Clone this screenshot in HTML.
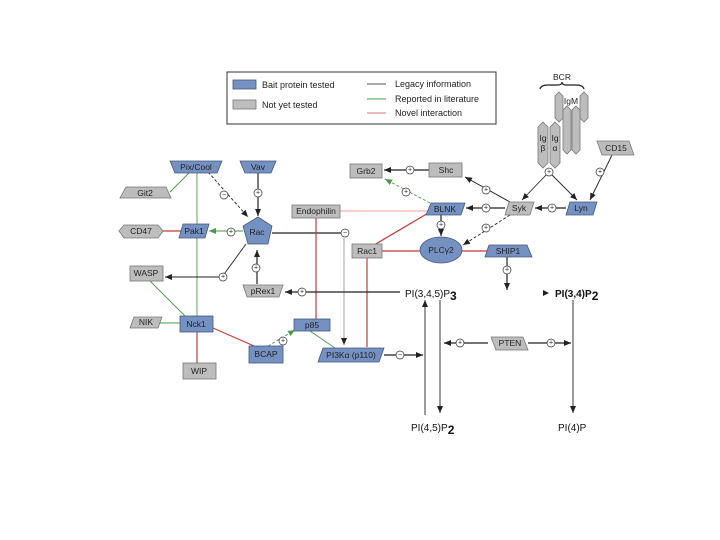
<!DOCTYPE html>
<html><head><meta charset="utf-8"><style>
html,body{margin:0;padding:0;background:#fff;}
svg{display:block;font-family:"Liberation Sans",sans-serif;}
.b{fill:#7591c2;stroke:#41577e;stroke-width:0.8}
.g{fill:#bdbdbd;stroke:#777;stroke-width:0.8}
.t{font-size:8.5px;fill:#222;text-anchor:middle;dominant-baseline:central}
.k{stroke:#222;stroke-width:1.2;fill:none}
.kd{stroke:#222;stroke-width:0.9;fill:none}
.gr{stroke:#4a9a4a;stroke-width:0.9;fill:none}
.gd{stroke:#4a9a4a;stroke-width:0.9;fill:none;stroke-dasharray:3 2}
.r{stroke:#c83a3a;stroke-width:1.2;fill:none}
.lp{stroke:#f0a0a0;stroke-width:1;fill:none}
.lg{stroke:#999;stroke-width:0.9;fill:none}
.c{fill:#fff;stroke:#333;stroke-width:0.7}
.ct{font-size:7px;fill:#222;text-anchor:middle;dominant-baseline:central}
.pi{font-size:10px;fill:#111;}
</style></head><body>
<svg width="720" height="540" viewBox="0 0 720 540">
<defs>
<marker id="a" markerWidth="8" markerHeight="8" refX="7" refY="4" orient="auto" markerUnits="userSpaceOnUse"><path d="M0,1 L7,4 L0,7z" fill="#222"/></marker>
<marker id="ag" markerWidth="8" markerHeight="8" refX="7" refY="4" orient="auto" markerUnits="userSpaceOnUse"><path d="M0,1 L7,4 L0,7z" fill="#4a9a4a"/></marker>
</defs>
<!-- legend -->
<rect x="227" y="72" width="269" height="52" fill="#fff" stroke="#333" stroke-width="1"/>
<rect x="233" y="80" width="23" height="9" class="b"/>
<rect x="233" y="100" width="23" height="9" class="g"/>
<text x="262" y="85" font-size="9" fill="#222" dominant-baseline="central">Bait protein tested</text>
<text x="262" y="105" font-size="9" fill="#222" dominant-baseline="central">Not yet tested</text>
<line x1="367" y1="84" x2="386" y2="84" stroke="#555"/>
<line x1="367" y1="99" x2="386" y2="99" stroke="#4a9a4a"/>
<line x1="367" y1="113" x2="386" y2="113" stroke="#e07070"/>
<text x="395" y="84" font-size="9" fill="#222" dominant-baseline="central">Legacy information</text>
<text x="395" y="99" font-size="9" fill="#222" dominant-baseline="central">Reported in literature</text>
<text x="395" y="113" font-size="9" fill="#222" dominant-baseline="central">Novel interaction</text>

<!-- connectors -->
<line x1="170" y1="192" x2="190" y2="172" class="gr"/>
<line x1="197" y1="172" x2="197" y2="316" class="gr"/>
<line x1="163" y1="231" x2="181" y2="231" class="r"/>
<line x1="243" y1="231" x2="209" y2="231" class="gr" marker-end="url(#ag)"/>
<line x1="150" y1="281" x2="185" y2="316" class="gr"/>
<line x1="158" y1="323" x2="180" y2="323" class="gr"/>
<line x1="197" y1="331" x2="197" y2="363" class="r"/>
<line x1="213" y1="328" x2="254" y2="346" class="r"/>
<line x1="268" y1="346" x2="295" y2="330" class="gd" marker-end="url(#ag)"/>
<line x1="310" y1="331" x2="335" y2="348" class="gr"/>
<line x1="208" y1="172" x2="248" y2="217" class="kd" marker-end="url(#a)" stroke-dasharray="3 2"/>
<line x1="258" y1="172" x2="258" y2="216" class="k" marker-end="url(#a)"/>
<line x1="257" y1="284" x2="257" y2="250" class="k" marker-end="url(#a)"/>
<path d="M246,244 L222,277 L165,277" class="kd" marker-end="url(#a)"/>
<line x1="272" y1="233" x2="345" y2="233" class="k"/>
<line x1="344" y1="238" x2="344" y2="345" class="lg" marker-end="url(#a)"/>
<line x1="316" y1="218" x2="316" y2="319" class="r"/>
<line x1="367" y1="258" x2="367" y2="347" class="r"/>
<line x1="340" y1="211" x2="428" y2="211" class="lp"/>
<line x1="374" y1="245" x2="430" y2="212" class="r"/>
<line x1="382" y1="251" x2="420" y2="251" class="r"/>
<line x1="462" y1="251" x2="488" y2="251" class="r"/>
<line x1="400" y1="292" x2="285" y2="292" class="k" marker-end="url(#a)"/>
<line x1="384" y1="355" x2="423" y2="355" class="k" marker-end="url(#a)"/>
<line x1="425" y1="415" x2="425" y2="300" class="kd" marker-end="url(#a)"/>
<line x1="440" y1="300" x2="440" y2="413" class="kd" marker-end="url(#a)"/>
<line x1="488" y1="343" x2="444" y2="343" class="k" marker-end="url(#a)"/>
<line x1="528" y1="343" x2="571" y2="343" class="k" marker-end="url(#a)"/>
<line x1="573" y1="300" x2="573" y2="413" class="kd" marker-end="url(#a)"/>
<line x1="429" y1="170" x2="384" y2="170" class="k" marker-end="url(#a)"/>
<line x1="430" y1="203" x2="385" y2="179" class="gd" marker-end="url(#ag)"/>
<line x1="510" y1="202" x2="465" y2="177" class="kd" marker-end="url(#a)"/>
<line x1="505" y1="208" x2="466" y2="208" class="k" marker-end="url(#a)"/>
<line x1="566" y1="208" x2="535" y2="208" class="k" marker-end="url(#a)"/>
<line x1="549" y1="172" x2="522" y2="200" class="kd" marker-end="url(#a)"/>
<line x1="549" y1="172" x2="577" y2="200" class="kd" marker-end="url(#a)"/>
<line x1="549" y1="168" x2="549" y2="175" class="kd"/>
<line x1="612" y1="155" x2="590" y2="200" class="kd" marker-end="url(#a)"/>
<line x1="441" y1="215" x2="441" y2="236" class="k" marker-end="url(#a)"/>
<line x1="510" y1="215" x2="463" y2="245" class="kd" marker-end="url(#a)" stroke-dasharray="3 2"/>
<line x1="507" y1="257" x2="507" y2="290" class="k" marker-end="url(#a)"/>
<path d="M540,89 Q541,85 548,85 L558,85 Q562,85 562,82 Q562,85 566,85 L576,85 Q583,85 584,89" stroke="#222" fill="none" stroke-width="1.2"/>
<text x="562" y="77" class="t" font-size="8">BCR</text>

<!-- circles -->
<g>
<circle cx="224" cy="195" r="4" class="c"/><text x="224" y="195" class="ct">−</text>
<circle cx="258" cy="193" r="4" class="c"/><text x="258" y="193" class="ct">+</text>
<circle cx="231" cy="232" r="4" class="c"/><text x="231" y="232" class="ct">+</text>
<circle cx="256" cy="268" r="4" class="c"/><text x="256" y="268" class="ct">+</text>
<circle cx="223" cy="277" r="4" class="c"/><text x="223" y="277" class="ct">+</text>
<circle cx="345" cy="233" r="4" class="c"/><text x="345" y="233" class="ct">−</text>
<circle cx="302" cy="292" r="4" class="c"/><text x="302" y="292" class="ct">+</text>
<circle cx="283" cy="341" r="4" class="c"/><text x="283" y="341" class="ct">+</text>
<circle cx="400" cy="355" r="4" class="c"/><text x="400" y="355" class="ct">−</text>
<circle cx="460" cy="343" r="4" class="c"/><text x="460" y="343" class="ct">+</text>
<circle cx="551" cy="343" r="4" class="c"/><text x="551" y="343" class="ct">+</text>
<circle cx="410" cy="170" r="4" class="c"/><text x="410" y="170" class="ct">+</text>
<circle cx="406" cy="192" r="4" class="c"/><text x="406" y="192" class="ct">+</text>
<circle cx="486" cy="190" r="4" class="c"/><text x="486" y="190" class="ct">+</text>
<circle cx="486" cy="208" r="4" class="c"/><text x="486" y="208" class="ct">+</text>
<circle cx="552" cy="208" r="4" class="c"/><text x="552" y="208" class="ct">+</text>
<circle cx="549" cy="172" r="4" class="c"/><text x="549" y="172" class="ct">+</text>
<circle cx="600" cy="172" r="4" class="c"/><text x="600" y="172" class="ct">+</text>
<circle cx="441" cy="225" r="4" class="c"/><text x="441" y="225" class="ct">+</text>
<circle cx="486" cy="228" r="4" class="c"/><text x="486" y="228" class="ct">+</text>
<circle cx="507" cy="270" r="4" class="c"/><text x="507" y="270" class="ct">+</text>
</g>

<!-- nodes -->
<polygon points="170,161 222,161 217,173 175,173" class="b"/><text x="196" y="167" class="t">Pix/Cool</text>
<polygon points="240,161 276,161 271,173 245,173" class="b"/><text x="258" y="167" class="t">Vav</text>
<polygon points="126,187 166,187 171,198 120,198" class="g"/><text x="145" y="193" class="t">Git2</text>
<polygon points="258,217 272,226 268,244 248,244 243,226" class="b"/><text x="257" y="232" class="t">Rac</text>
<polygon points="183,224 209,224 205,238 179,238" class="b"/><text x="194" y="231" class="t">Pak1</text>
<polygon points="124,225 158,225 163,231 158,238 124,238 119,231" class="g"/><text x="141" y="231" class="t">CD47</text>
<rect x="130" y="266" width="33" height="15" class="g"/><text x="146" y="273" class="t">WASP</text>
<polygon points="243,285 283,285 279,297 247,297" class="g"/><text x="263" y="291" class="t">pRex1</text>
<polygon points="134,317 162,317 158,328 130,328" class="g"/><text x="146" y="322" class="t">NIK</text>
<rect x="180" y="316" width="33" height="16" class="b"/><text x="196" y="324" class="t">Nck1</text>
<rect x="183" y="363" width="33" height="16" class="g"/><text x="199" y="371" class="t">WIP</text>
<rect x="249" y="346" width="34" height="17" class="b"/><text x="266" y="354" class="t">BCAP</text>
<rect x="294" y="319" width="36" height="12" class="b"/><text x="312" y="325" class="t">p85</text>
<polygon points="323,348 384,348 379,362 318,362" class="b"/><text x="351" y="355" class="t">PI3Kα (p110)</text>
<rect x="292" y="205" width="48" height="13" class="g"/><text x="316" y="211" class="t">Endophilin</text>
<rect x="352" y="244" width="30" height="14" class="g"/><text x="367" y="251" class="t">Rac1</text>
<rect x="350" y="164" width="32" height="14" class="g"/><text x="366" y="171" class="t">Grb2</text>
<rect x="429" y="163" width="33" height="14" class="g"/><text x="446" y="170" class="t">Shc</text>
<polygon points="431,203 465,203 461,215 426,215" class="b"/><text x="445" y="209" class="t">BLNK</text>
<ellipse cx="441" cy="250" rx="21" ry="13" class="b"/><text x="441" y="250" class="t">PLCγ2</text>
<polygon points="489,245 527,245 532,257 485,257" class="b"/><text x="508" y="251" class="t">SHIP1</text>
<polygon points="509,202 534,202 530,215 505,215" class="g"/><text x="519" y="208" class="t">Syk</text>
<polygon points="570,202 597,202 593,215 566,215" class="b"/><text x="581" y="208" class="t">Lyn</text>
<polygon points="597,141 629,141 634,155 602,155" class="g"/><text x="616" y="148" class="t">CD15</text>
<polygon points="491,337 523,337 528,350 496,350" class="g"/><text x="510" y="343" class="t">PTEN</text>
<!-- BCR chains -->
<polygon points="559,92 563,96 563,118 559,122 555,118 555,96" class="g"/>
<polygon points="584,92 588,96 588,118 584,122 580,118 580,96" class="g"/>
<polygon points="567,106 571,110 571,150 567,154 563,150 563,110" class="g"/>
<polygon points="576,106 580,110 580,150 576,154 572,150 572,110" class="g"/>
<text x="571" y="101" class="t" font-size="8">IgM</text>
<polygon points="543,122 548,127 548,163 543,168 538,163 538,127" class="g"/>
<polygon points="555,122 560,127 560,163 555,168 550,163 550,127" class="g"/>
<text x="543" y="138" class="t" font-size="8">Ig</text><text x="543" y="148" class="t" font-size="8">β</text>
<text x="555" y="138" class="t" font-size="8">Ig</text><text x="555" y="148" class="t" font-size="8">α</text>

<!-- lipids -->
<text x="405" y="297" class="pi">PI(3,4,5)P<tspan font-size="12" font-weight="bold" dy="3">3</tspan></text>
<path d="M543,290 L549,293 L543,296z" fill="#222"/>
<text x="555" y="297" class="pi" font-weight="bold">PI(3,4)P<tspan font-size="12" dy="3">2</tspan></text>
<text x="411" y="431" class="pi">PI(4,5)P<tspan font-size="12" font-weight="bold" dy="3">2</tspan></text>
<text x="558" y="431" class="pi">PI(4)P</text>
</svg>
</body></html>
